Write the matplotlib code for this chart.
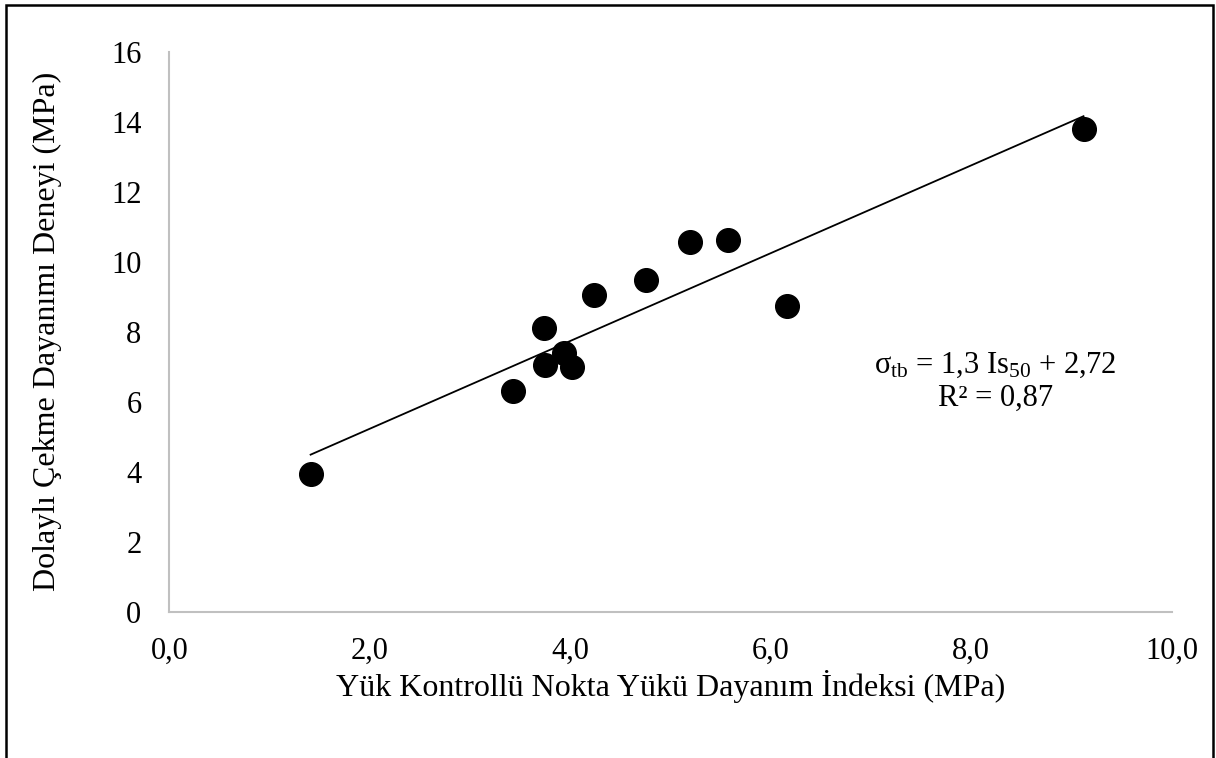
import numpy as np
import matplotlib.pyplot as plt
from matplotlib.patches import Rectangle

plt.rcParams['font.family'] = ['Liberation Serif', 'DejaVu Serif']
plt.rcParams['mathtext.fontset'] = 'custom'
plt.rcParams['mathtext.rm'] = 'Liberation Serif'
plt.rcParams['mathtext.it'] = 'Liberation Serif:italic'

# point load index (MPa) and indirect tensile strength (MPa)
is50 = [1.41, 3.43, 3.74, 3.75, 3.94, 4.02, 4.24, 4.76, 5.19, 5.57, 6.16, 9.12]
sigma_tb = [3.94, 6.31, 8.12, 7.05, 7.40, 7.00, 9.05, 9.48, 10.55, 10.62, 8.74, 13.78]

x_ticks = [0, 2, 4, 6, 8, 10]
y_ticks = [0, 2, 4, 6, 8, 10, 12, 14, 16]

fig = plt.figure(figsize=(12.16, 7.58), dpi=100)
ax = fig.add_axes([0.1392, 0.1926, 0.8244, 0.7394])

ax.scatter(is50, sigma_tb, s=290, color='black', zorder=3)

# linear trend line over the data range
slope, intercept = np.polyfit(is50, sigma_tb, 1)
xs = np.array([min(is50), max(is50)])
ax.plot(xs, slope * xs + intercept, color='black', linewidth=1.3, zorder=2)

ax.set_xlim(0, 10)
ax.set_ylim(0, 16)
ax.set_xticks(x_ticks)
ax.set_xticklabels([('%.1f' % v).replace('.', ',') for v in x_ticks])
ax.set_yticks(y_ticks)
ax.tick_params(axis='both', length=0, labelsize=22)
ax.tick_params(axis='x', pad=18)
ax.tick_params(axis='y', pad=20)

for side in ['top', 'right']:
    ax.spines[side].set_visible(False)
for side in ['left', 'bottom']:
    ax.spines[side].set_color('#c0c0c0')
    ax.spines[side].set_linewidth(1.5)

ax.set_xlabel('Yük Kontrollü Nokta Yükü Dayanım İndeksi (MPa)', fontsize=23, labelpad=3)
ax.set_ylabel('Dolaylı Çekme Dayanımı Deneyi (MPa)', fontsize=23, labelpad=35)

ax.text(8.24, 7.05, r'σ$_{\mathrm{tb}}$ = 1,3 Is$_{\mathrm{50}}$ + 2,72', fontsize=22,
        ha='center', va='center')
ax.text(8.24, 6.1, 'R² = 0,87', fontsize=22, ha='center', va='center')

# outer frame
fig.patches.append(Rectangle((6 / 1216, -0.05), 1207 / 1216, 1 - 5 / 758 + 0.05,
                             transform=fig.transFigure, fill=False,
                             edgecolor='black', linewidth=1.8))

fig.savefig('out.png', dpi=100)
